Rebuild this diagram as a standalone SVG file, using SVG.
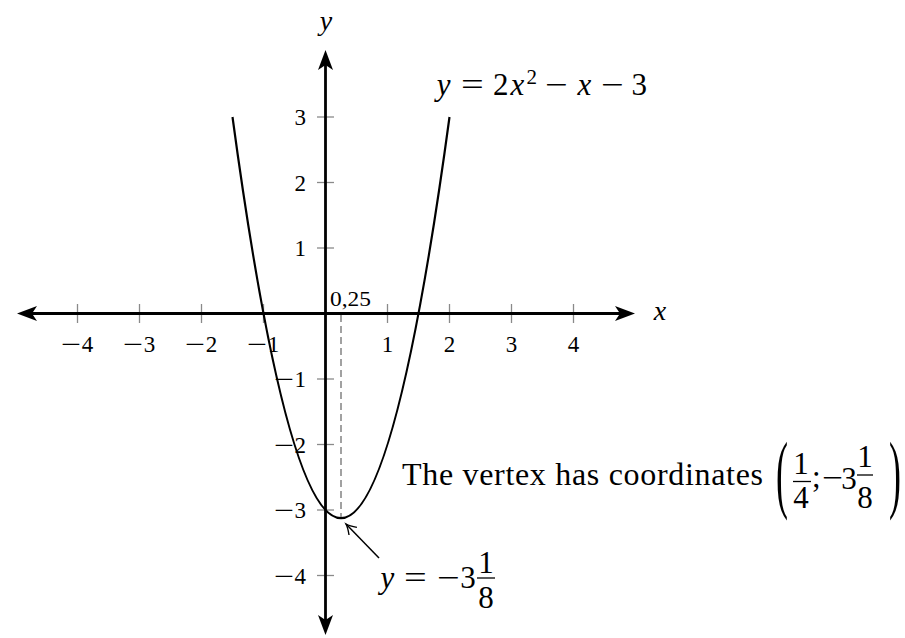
<svg xmlns="http://www.w3.org/2000/svg" width="905" height="638" viewBox="0 0 905 638">
<defs>
<style>
text{font-family:"Liberation Serif","DejaVu Serif",serif;fill:#000}
.tk{font-size:23px}
.m{font-size:31px}
.it{font-style:italic}
.tick{stroke:#8a8a8a;stroke-width:1.3}
.ax{stroke:#000;stroke-width:2.8;fill:none}
.mid{text-anchor:middle}
.end{text-anchor:end}
.bar{stroke:#000;stroke-width:1.3}
</style>
<marker id="stealth" markerUnits="userSpaceOnUse" markerWidth="30" markerHeight="30" refX="0" refY="0" viewBox="-10 -10 30 20" orient="auto-start-reverse" overflow="visible">
<path d="M14,0 L-6,-7.5 L-1,0 L-6,7.5 Z" fill="#000"/>
</marker>
<marker id="open" markerUnits="userSpaceOnUse" markerWidth="20" markerHeight="20" refX="0" refY="0" orient="auto" overflow="visible">
<path d="M-10,-5.5 Q-4,-1.2 0,0 Q-4,1.2 -10,5.5" fill="none" stroke="#000" stroke-width="1.4"/>
</marker>
</defs>
<rect width="905" height="638" fill="#fff"/>

<g id="ticks">
<line class="tick" x1="77.5" y1="304" x2="77.5" y2="323"/>
<line class="tick" x1="139.5" y1="304" x2="139.5" y2="323"/>
<line class="tick" x1="201.5" y1="304" x2="201.5" y2="323"/>
<line class="tick" x1="263.5" y1="304" x2="263.5" y2="323"/>
<line class="tick" x1="387.5" y1="304" x2="387.5" y2="323"/>
<line class="tick" x1="449.5" y1="304" x2="449.5" y2="323"/>
<line class="tick" x1="511.5" y1="304" x2="511.5" y2="323"/>
<line class="tick" x1="573.5" y1="304" x2="573.5" y2="323"/>
<line class="tick" x1="317" y1="117" x2="334" y2="117"/>
<line class="tick" x1="317" y1="182.5" x2="334" y2="182.5"/>
<line class="tick" x1="317" y1="248" x2="334" y2="248"/>
<line class="tick" x1="317" y1="379" x2="334" y2="379"/>
<line class="tick" x1="317" y1="444.5" x2="334" y2="444.5"/>
<line class="tick" x1="317" y1="510" x2="334" y2="510"/>
<line class="tick" x1="317" y1="575.5" x2="334" y2="575.5"/>
</g>

<g id="dashed">
<line x1="341" y1="315" x2="341" y2="518" stroke="#8a8a8a" stroke-width="1.6" stroke-dasharray="7,4"/>
</g>

<g id="axes">
<line class="ax" x1="31" y1="313.5" x2="621" y2="313.5" marker-start="url(#stealth)" marker-end="url(#stealth)"/>
<line class="ax" x1="325.5" y1="64" x2="325.5" y2="621" marker-start="url(#stealth)" marker-end="url(#stealth)"/>
</g>

<g id="curve">
<path d="M232.5,117 Q341,919.4 449.5,117" fill="none" stroke="#000" stroke-width="2.2"/>
</g>

<g id="tick-labels" class="tk">
<text transform="translate(61,352) scale(1.55,1)">−</text><text class="mid" x="87.5" y="352">4</text>
<text transform="translate(123,352) scale(1.55,1)">−</text><text class="mid" x="149.5" y="352">3</text>
<text transform="translate(185,352) scale(1.55,1)">−</text><text class="mid" x="211.5" y="352">2</text>
<text transform="translate(247,352) scale(1.55,1)">−</text><text class="mid" x="273.5" y="352">1</text>
<text class="mid" x="387.5" y="352">1</text>
<text class="mid" x="449.5" y="352">2</text>
<text class="mid" x="511.5" y="352">3</text>
<text class="mid" x="573.5" y="352">4</text>
<text class="end" x="306" y="125">3</text>
<text class="end" x="306" y="190.5">2</text>
<text class="end" x="306" y="256">1</text>
<text transform="translate(274,387) scale(1.55,1)">−</text><text class="end" x="306" y="387">1</text>
<text transform="translate(274,452.5) scale(1.55,1)">−</text><text class="end" x="306" y="452.5">2</text>
<text transform="translate(274,518) scale(1.55,1)">−</text><text class="end" x="306" y="518">3</text>
<text transform="translate(274,583.5) scale(1.55,1)">−</text><text class="end" x="306" y="583.5">4</text>
<text x="330" y="306" font-size="22" textLength="41" lengthAdjust="spacingAndGlyphs">0,25</text>
</g>

<g id="axis-labels">
<text class="it mid" x="660" y="320" font-size="28">x</text>
<text class="it mid" x="326" y="30" font-size="28">y</text>
</g>

<g id="equation" class="m">
<text class="it mid" x="443.6" y="95">y</text>
<text transform="translate(461,95) scale(1.3,1)">=</text>
<text class="mid" x="500.7" y="95">2</text>
<text class="it mid" x="517.4" y="95">x</text>
<text class="mid" x="531.8" y="84" font-size="21">2</text>
<text transform="translate(545,95) scale(1.3,1)">−</text>
<text class="it mid" x="584.3" y="95">x</text>
<text transform="translate(601,95) scale(1.3,1)">−</text>
<text class="mid" x="639.2" y="95">3</text>
</g>

<g id="vertex-arrow">
<line x1="379" y1="558" x2="346" y2="524" stroke="#000" stroke-width="1.5" marker-end="url(#open)"/>
</g>

<g id="min-label" class="m">
<text class="it mid" x="387.5" y="588">y</text>
<text transform="translate(404,588) scale(1.3,1)">=</text>
<text transform="translate(437,588) scale(1.3,1)">−</text>
<text class="mid" x="468" y="588">3</text>
<text class="mid" x="486" y="573">1</text>
<line class="bar" x1="477" y1="578" x2="495" y2="578"/>
<text class="mid" x="486" y="608">8</text>
</g>

<g id="vertex-text" class="m">
<text x="402" y="485" font-size="32" textLength="361" lengthAdjust="spacing">The vertex has coordinates</text>
<text x="776" y="209" font-size="36" transform="scale(1,2.4)">(</text>
<text class="mid" x="801" y="474">1</text>
<line class="bar" x1="793" y1="481.5" x2="811" y2="481.5"/>
<text class="mid" x="801" y="508">4</text>
<text x="812" y="487">;</text>
<text transform="translate(822,488) scale(1.2,1)">−</text>
<text class="mid" x="849" y="489">3</text>
<text class="mid" x="865" y="467">1</text>
<line class="bar" x1="857" y1="475" x2="873" y2="475"/>
<text class="mid" x="865" y="508">8</text>
<text x="889" y="209" font-size="36" transform="scale(1,2.4)">)</text>
</g>
</svg>
